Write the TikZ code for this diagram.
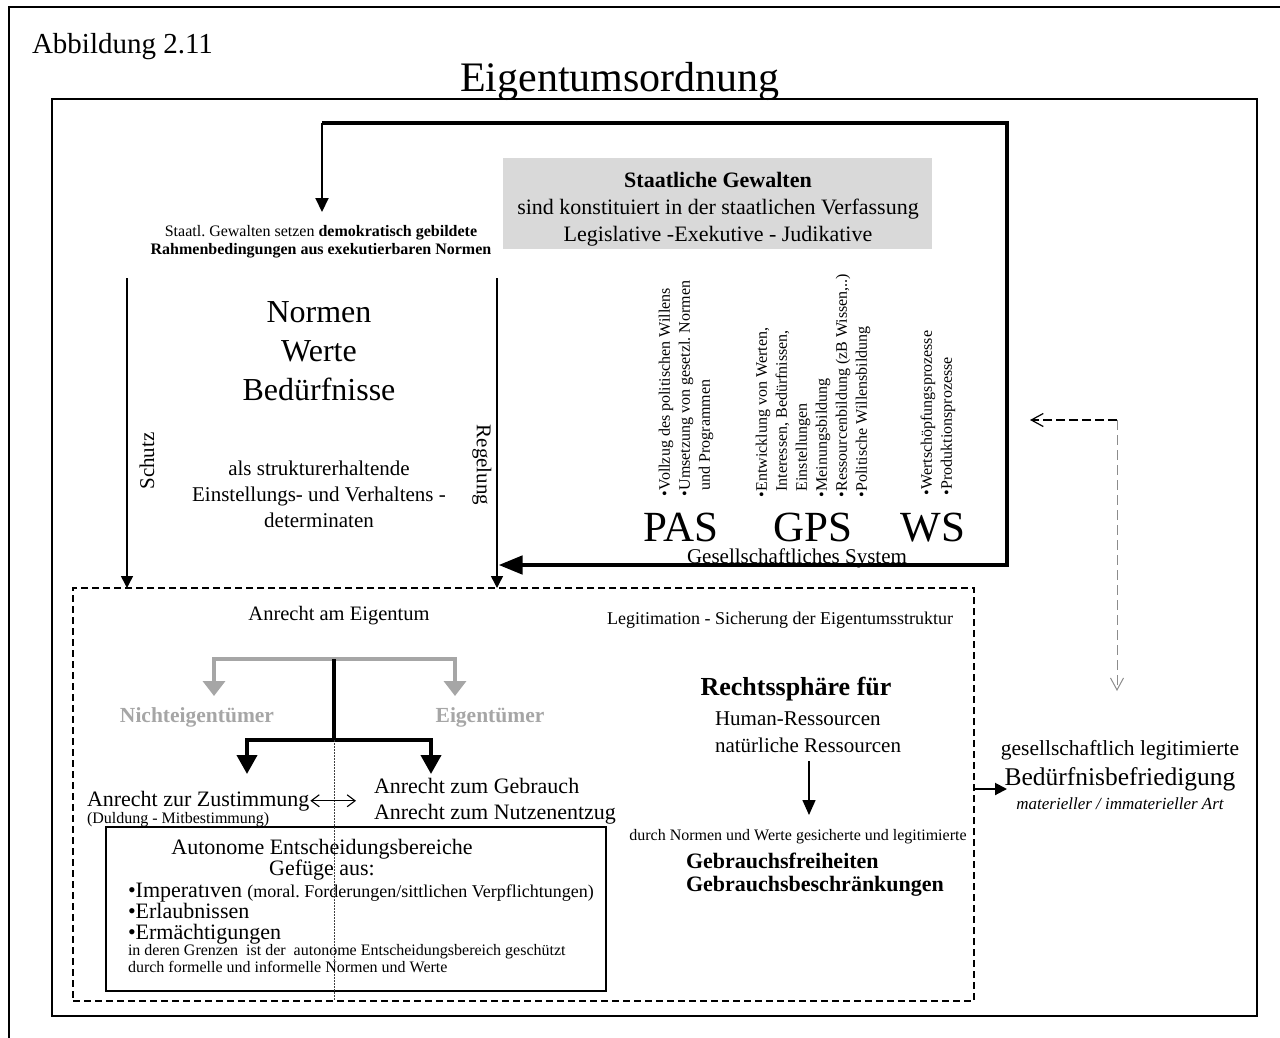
\documentclass[tikz,border=0pt]{standalone}
\usepackage{fontspec}
\setmainfont{Liberation Serif}
\usetikzlibrary{arrows.meta,calc}
\frenchspacing
\newcommand\fsz[2]{\fontsize{#1pt}{#2pt}\selectfont}
\definecolor{boxgrey}{HTML}{D9D9D9}
\definecolor{treegrey}{HTML}{A6A6A6}
\definecolor{dashgrey}{HTML}{8C8C8C}
\tikzset{
  every node/.style={inner sep=0pt, outer sep=0pt},
  framebox/.style={draw, line width=1.5pt},
  dashbox/.style={draw, line width=1.8pt, dash pattern=on 7pt off 4pt},
  thinarrow/.style={line width=1.5pt, -{Triangle[length=12pt,width=12pt]}},
  heavyline/.style={line width=4.5pt, line join=miter},
  greytree/.style={draw=treegrey, line width=3.5pt, line join=miter, -{Triangle[length=15pt,width=22pt]}},
  blacktree/.style={line width=4pt, line join=miter},
  blacktip/.style={-{Triangle[length=19pt,width=20pt]}},
  barb/.style={line width=1.2pt, dash pattern=on 9pt off 4pt, -{Straight Barb[length=12pt,width=13pt]}},
}
\begin{document}
\begin{tikzpicture}[x=1pt,y=-1pt]
\useasboundingbox (0,0) rectangle (1280,1037);
\clip (0,0) rectangle (1280,1037);

% outer border (runs off the page to the right and below)
\draw[line width=2.5pt] (9,1060) -- (9,7) -- (1300,7);

% main frame
\node[framebox, minimum width=1205, minimum height=917] (frame) at (654.5,557.5) {};

\node[anchor=base west, font=\fsz{29}{34}] (abb) at (32,53) {Abbildung 2.11};
\node[anchor=base, font=\fsz{42}{48}] (title) at (620,91) {Eigentumsordnung};

% state powers
\node[fill=boxgrey, minimum width=429, minimum height=91] (staat) at (717.5,203.5) {};
\node[align=center, font=\fsz{22}{27}] (staattext) at (718,209)
  {\textbf{Staatliche Gewalten}\\sind konstituiert in der staatlichen Verfassung\\Legislative -Exekutive - Judikative};

\node[align=center, font=\fsz{16}{18}] (rahmen) at (321,241.5)
  {Staatl. Gewalten setzen \textbf{demokratisch gebildete}\\\textbf{Rahmenbedingungen aus exekutierbaren Normen}};

\node[align=center, font=\fsz{32}{39}] (nwb) at (319,351) {Normen\\Werte\\Bedürfnisse};
\node[align=center, font=\fsz{21}{26}] (struk) at (319,494.5)
  {als strukturerhaltende\\Einstellungs- und Verhaltens -\\determinaten};

\node[rotate=90, font=\fsz{21}{24}] (schutz) at (147,461) {Schutz};
\node[rotate=-90, font=\fsz{21}{24}] (regelung) at (482,465) {Regelung};

% subsystems
\node[rotate=90, anchor=west, align=left, font=\fsz{16}{20}] (pasl) at (686,496)
  {•Vollzug des politischen Willens\\•Umsetzung von gesetzl. Normen\\\phantom{•}und Programmen};
\node[rotate=90, anchor=west, align=left, font=\fsz{16}{20}] (gpsl) at (813,497)
  {•Entwicklung von Werten,\\\phantom{•}Interessen, Bedürfnissen,\\\phantom{•}Einstellungen\\•Meinungsbildung\\•Ressourcenbildung (zB Wissen,..)\\•Politische Willensbildung};
\node[rotate=90, anchor=west, align=left, font=\fsz{16}{20}] (wsl) at (938,495)
  {•Wertschöpfungsprozesse\\•Produktionsprozesse};

\node[anchor=base, font=\fsz{43}{48}] (pas) at (681,541) {PAS};
\node[anchor=base, font=\fsz{43}{48}] (gps) at (813,541) {GPS};
\node[anchor=base, font=\fsz{43}{48}] (ws) at (933,541) {WS};
\node[font=\fsz{21}{24}] (gsys) at (797,558) {Gesellschaftliches System};

% heavy loop of the state box
\coordinate (tl) at (322,123);
\coordinate (tr) at (1007,123);
\coordinate (br) at (1007,565);
\coordinate (rahmentip) at (322,212);
\coordinate (schutztop) at (127,278);
\coordinate (regtop) at (497,278);

% legal sphere (dashed)
\node[dashbox, minimum width=901, minimum height=413] (rechtsraum) at (523.5,794.5) {};

\draw[heavyline, -{Triangle[length=24pt,width=18pt]}] (tl) -- (tr) -- (br) -- ([xshift=1.5pt]regtop |- br);
\draw[line width=2pt, -{Triangle[length=14pt,width=13pt]}] (tl) -- (rahmentip);
\draw[thinarrow] (schutztop) -- (schutztop |- rechtsraum.north);
\draw[thinarrow] (regtop) -- (regtop |- rechtsraum.north);

\node[font=\fsz{20.5}{24}] (anrecht) at (339,616) {Anrecht am Eigentum};
\node[font=\fsz{18}{21}] (legit) at (780,620) {Legitimation - Sicherung der Eigentumsstruktur};

% ownership tree
\coordinate (gmid) at (334,659);
\coordinate (bmid) at (334,740);
\coordinate (gltip) at (214,696);
\coordinate (grtip) at (455,696);
\coordinate (bltip) at (247,774);
\coordinate (brtip) at (431,774);
\draw[greytree] (gmid) -| (gltip);
\draw[greytree] (gmid) -| (grtip);
\draw[blacktree] (gmid) -- (bmid);
\draw[blacktree, blacktip] (bmid) -| (bltip);
\draw[blacktree, blacktip] (bmid) -| (brtip);
\draw[line width=1pt, black!75, dash pattern=on 1.5pt off 1.5pt] (bmid) -- (bmid |- rechtsraum.south);

\node[font=\fsz{21.5}{24}\bfseries, text=treegrey] (nicht) at (197,717) {Nichteigentümer};
\node[font=\fsz{21.5}{24}\bfseries, text=treegrey] (eig) at (490,717) {Eigentümer};

\node[anchor=base west, font=\fsz{22}{26}] (zust) at (87,806) {Anrecht zur Zustimmung};
\node[anchor=base west, font=\fsz{16}{19}] (duld) at (87,823) {(Duldung - Mitbestimmung)};
\node[anchor=west, align=left, font=\fsz{22}{26}] (gebr) at (374,801) {Anrecht zum Gebrauch\\Anrecht zum Nutzenentzug};
\draw[line width=1.1pt, {Straight Barb[length=8pt,width=12pt]}-{Straight Barb[length=8pt,width=12pt]}]
  ([xshift=1pt]zust.east) -- ([xshift=-18pt]gebr.west |- zust.east);

% autonomous decision areas
\node[framebox, fill=white, minimum width=500, minimum height=164] (auto) at (356,909) {};
\draw[line width=1pt, black!75, dash pattern=on 1.5pt off 1.5pt] (auto.north -| bmid) -- (auto.south -| bmid);
\node[align=center, font=\fsz{22}{20}] (autt) at (322,860) {Autonome Entscheidungsbereiche\\Gefüge aus:};
\node[anchor=west, align=left, font=\fsz{22}{21}] (imp) at (128,914)
  {•Imperatıven {\fsz{18}{21}(moral. Forderungen/sittlichen Verpflichtungen)}\\•Erlaubnissen\\•Ermächtigungen};
\node[anchor=west, align=left, font=\fsz{16}{17}] (gren) at (128,958.5)
  {in deren Grenzen\ \ ist der\ \ autonome Entscheidungsbereich geschützt\\durch formelle und informelle Normen und Werte};

% rights sphere
\node[font=\fsz{26}{30}\bfseries] (rsph) at (796,689) {Rechtssphäre für};
\node[anchor=west, align=left, font=\fsz{21}{27}] (res) at (715,732) {Human-Ressourcen\\natürliche Ressourcen};
\coordinate (rsa) at (809,761);
\coordinate (rsb) at (809,815);
\draw[line width=1.5pt, -{Triangle[length=15pt,width=13pt]}] (rsa) -- (rsb);
\node[font=\fsz{16}{19}] (durch) at (798,837) {durch Normen und Werte gesicherte und legitimierte};
\node[anchor=west, align=left, font=\fsz{22}{23}\bfseries] (gfrei) at (686,875) {Gebrauchsfreiheiten\\Gebrauchsbeschränkungen};

% need satisfaction
\node[font=\fsz{21.5}{24}] (gl) at (1120,750) {gesellschaftlich legitimierte};
\node[font=\fsz{25.5}{28}] (bed) at (1120,779) {Bedürfnisbefriedigung};
\node[font=\fsz{17}{20}\itshape] (art) at (1120,804) {materieller / immaterieller Art};
\coordinate (bedin) at (1007,789);
\draw[line width=2pt, -{Triangle[length=12pt,width=12pt]}] (rechtsraum.east |- bedin) -- (bedin);

% feedback (dashed)
\coordinate (dcorner) at (1117,420);
\coordinate (dleft) at (1030,420);
\coordinate (ddown) at (1117,691);
\draw[barb] (dcorner) -- (dleft);
\draw[barb, draw=dashgrey, line width=1pt, dash pattern=on 10pt off 5pt] (dcorner) -- (ddown);
\end{tikzpicture}
\end{document}
